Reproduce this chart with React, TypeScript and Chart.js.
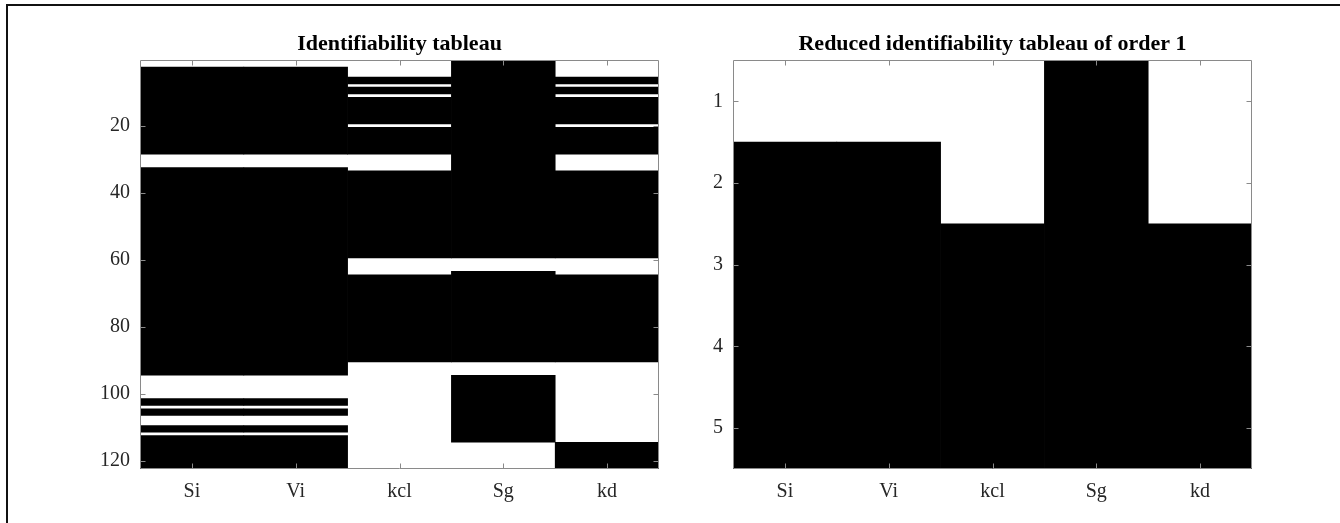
import React, { useEffect, useRef } from 'react';
import { Chart, registerables } from 'chart.js';

Chart.register(...registerables);

// ---------- data ----------
const parameterNames = ['Si', 'Vi', 'kcl', 'Sg', 'kd'];

// Full identifiability tableau: 122 rows, black cells given as runs [firstRow, lastRow]
const fullRowCount = 122;
const fullRowTicks = [20, 40, 60, 80, 100, 120];
const fullSiBlack = [[3, 28], [33, 94], [102, 103], [105, 106], [110, 111], [113, 122]];
const fullViBlack = [[3, 28], [33, 94], [102, 103], [105, 106], [110, 111], [113, 122]];
const fullKclBlack = [[6, 7], [9, 10], [12, 19], [21, 28], [34, 59], [65, 90]];
const fullSgBlack = [[1, 59], [64, 90], [95, 114]];
const fullKdBlack = [[6, 7], [9, 10], [12, 19], [21, 28], [34, 59], [65, 90], [115, 122]];

// Reduced identifiability tableau of order 1: 5 rows
const reducedRowCount = 5;
const reducedRowTicks = [1, 2, 3, 4, 5];
const reducedSiBlack = [[2, 5]];
const reducedViBlack = [[2, 5]];
const reducedKclBlack = [[3, 5]];
const reducedSgBlack = [[1, 5]];
const reducedKdBlack = [[3, 5]];

const fullTitle = 'Identifiability tableau';
const reducedTitle = 'Reduced identifiability tableau of order 1';

// ---------- helpers ----------
const FONT = "'Liberation Serif', 'Times New Roman', serif";
const AXIS_GRAY = '#8a8a8a';
const LABEL_COLOR = '#262626';

function buildDatasets(columns: number[][][]) {
  const maxRuns = Math.max(...columns.map((c) => c.length));
  const sets: any[] = [];
  for (let k = 0; k < maxRuns; k++) {
    sets.push({
      data: columns.map((c) => (c[k] ? [c[k][0] - 0.5, c[k][1] + 0.5] : null)),
      backgroundColor: '#000000',
      borderWidth: 0,
      borderSkipped: false,
      grouped: false,
      barPercentage: 1,
      categoryPercentage: 1,
    });
  }
  return sets;
}

const boxPlugin = {
  id: 'matlabBox',
  afterDatasetsDraw(chart: any) {
    const { ctx, chartArea, scales } = chart;
    const { left, right, top, bottom } = chartArea;
    const x = scales.x;
    const y = scales.y;
    const tl = 5;
    ctx.save();
    ctx.strokeStyle = AXIS_GRAY;
    ctx.lineWidth = 1;
    ctx.beginPath();
    const l = Math.round(left) + 0.5;
    const r = Math.round(right) - 0.5;
    const t = Math.round(top) + 0.5;
    const b = Math.round(bottom) - 0.5;
    ctx.rect(l, t, r - l, b - t);
    x.ticks.forEach((_: any, i: number) => {
      const px = Math.round(x.getPixelForTick(i)) + 0.5;
      ctx.moveTo(px, t);
      ctx.lineTo(px, t + tl);
      ctx.moveTo(px, b);
      ctx.lineTo(px, b - tl);
    });
    y.ticks.forEach((tk: any) => {
      const py = Math.round(y.getPixelForValue(tk.value)) + 0.5;
      ctx.moveTo(l, py);
      ctx.lineTo(l + tl, py);
      ctx.moveTo(r, py);
      ctx.lineTo(r - tl, py);
    });
    ctx.stroke();
    ctx.restore();
  },
};

function makeConfig(
  title: string,
  columns: number[][][],
  rowCount: number,
  rowTicks: number[],
  yWidth: number,
  rightPad: number
): any {
  return {
    type: 'bar',
    data: { labels: parameterNames, datasets: buildDatasets(columns) },
    options: {
      responsive: false,
      animation: false,
      devicePixelRatio: 1,
      layout: { padding: { left: 0, right: rightPad, top: 0, bottom: 0 } },
      plugins: {
        legend: { display: false },
        tooltip: { enabled: false },
        title: {
          display: true,
          text: title,
          fullSize: false,
          color: '#000000',
          font: { family: FONT, size: 22, weight: 'bold', lineHeight: 1.2 },
          padding: { top: 31, bottom: 3 },
        },
      },
      scales: {
        x: {
          type: 'category',
          offset: true,
          grid: { display: false, drawTicks: false },
          border: { display: false },
          ticks: {
            color: LABEL_COLOR,
            font: { family: FONT, size: 20 },
            padding: 11,
            maxRotation: 0,
            autoSkip: false,
          },
          afterFit: (s: any) => {
            s.height = 54;
          },
        },
        y: {
          type: 'linear',
          reverse: true,
          min: 0.5,
          max: rowCount + 0.5,
          grid: { display: false, drawTicks: false },
          border: { display: false },
          afterBuildTicks: (s: any) => {
            s.ticks = rowTicks.map((v) => ({ value: v }));
          },
          ticks: {
            color: LABEL_COLOR,
            font: { family: FONT, size: 20 },
            padding: 10,
          },
          afterFit: (s: any) => {
            s.width = yWidth;
          },
        },
      },
    },
    plugins: [boxPlugin],
  };
}

function Panel({ left, width, height, config }: { left: number; width: number; height: number; config: any }) {
  const ref = useRef<HTMLCanvasElement | null>(null);
  useEffect(() => {
    if (!ref.current) return;
    const chart = new Chart(ref.current, config);
    return () => chart.destroy();
  }, [config]);
  return (
    <canvas
      ref={ref}
      width={width}
      height={height}
      style={{ position: 'absolute', left, top: 0, width, height }}
    />
  );
}

const fullConfig = makeConfig(
  fullTitle,
  [fullSiBlack, fullViBlack, fullKclBlack, fullSgBlack, fullKdBlack],
  fullRowCount,
  fullRowTicks,
  140,
  21
);
const reducedConfig = makeConfig(
  reducedTitle,
  [reducedSiBlack, reducedViBlack, reducedKclBlack, reducedSgBlack, reducedKdBlack],
  reducedRowCount,
  reducedRowTicks,
  53,
  88
);

export default function App() {
  return (
    <div
      style={{
        position: 'fixed',
        left: 0,
        top: 0,
        width: 1340,
        height: 523,
        overflow: 'hidden',
        background: '#ffffff',
      }}
    >
      <div
        style={{
          position: 'absolute',
          left: 6,
          top: 4,
          width: 1400,
          height: 600,
          borderLeft: '2px solid #111',
          borderTop: '2px solid #111',
        }}
      />
      <Panel left={0} width={680} height={523} config={fullConfig} />
      <Panel left={680} width={660} height={523} config={reducedConfig} />
    </div>
  );
}
